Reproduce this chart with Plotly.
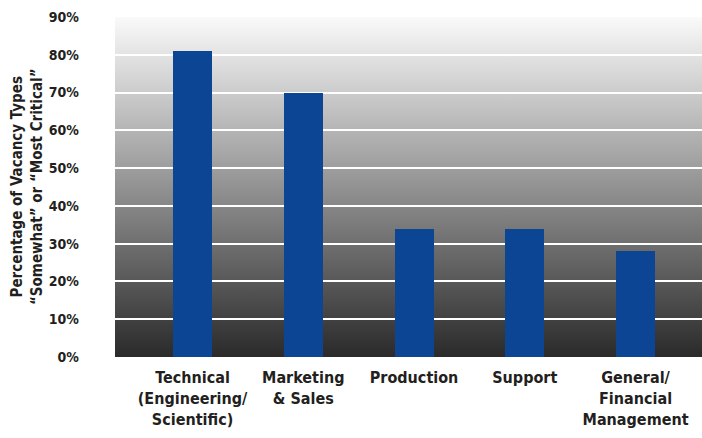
import base64
import plotly.graph_objects as go

# Vacancy categories and share rated "somewhat" or "most critical" (%)
categories = [
    "Technical<br>(Engineering/<br>Scientific)",
    "Marketing<br>& Sales",
    "Production",
    "Support",
    "General/<br>Financial<br>Management",
]
values = [81, 70, 34, 34, 28]
tick_values = [0, 10, 20, 30, 40, 50, 60, 70, 80, 90]
tick_labels = [f"{v}%" for v in tick_values]

FONT = "DejaVu Sans Condensed, sans-serif"
BAR_COLOR = "#0B4594"
TEXT_COLOR = "#231F20"

# Smooth vertical grey gradient used as the plot-area backdrop
gradient_svg = (
    '<svg xmlns="http://www.w3.org/2000/svg" width="100" height="100" '
    'preserveAspectRatio="none" viewBox="0 0 100 100">'
    '<defs><linearGradient id="g" x1="0" y1="0" x2="0" y2="1">'
    '<stop offset="0" stop-color="#FAFAFA"/>'
    '<stop offset="1" stop-color="#2A2A2A"/>'
    "</linearGradient></defs>"
    '<rect width="100" height="100" fill="url(#g)"/></svg>'
)
gradient_uri = "data:image/svg+xml;base64," + base64.b64encode(
    gradient_svg.encode()
).decode()

fig = go.Figure(
    go.Bar(
        x=categories,
        y=values,
        marker=dict(color=BAR_COLOR, line=dict(width=0)),
        width=0.352,
    )
)

fig.update_layout(
    width=702,
    height=438,
    margin=dict(l=115, r=0, t=17, b=81),
    paper_bgcolor="white",
    plot_bgcolor="rgba(0,0,0,0)",
    showlegend=False,
    bargap=0,
    font=dict(family=FONT, color=TEXT_COLOR),
    images=[
        dict(
            source=gradient_uri,
            xref="paper",
            yref="paper",
            x=0,
            y=1,
            sizex=1,
            sizey=1,
            xanchor="left",
            yanchor="top",
            sizing="stretch",
            layer="below",
        )
    ],
    annotations=[
        dict(
            text="Percentage of Vacancy Types<br>\u201cSomewhat\u201d or \u201cMost Critical\u201d",
            xref="paper",
            yref="paper",
            x=0,
            y=0.5,
            xshift=-88,
            xanchor="center",
            yanchor="middle",
            textangle=-90,
            showarrow=False,
            font=dict(family=FONT, size=15, color=TEXT_COLOR, weight="bold"),
        )
    ],
)

fig.update_yaxes(
    range=[0, 90],
    tickvals=tick_values,
    ticktext=tick_labels,
    showgrid=True,
    gridcolor="white",
    gridwidth=2,
    zeroline=False,
    showline=False,
    ticks="",
    ticklabelstandoff=35,
    tickfont=dict(family=FONT, size=14, color=TEXT_COLOR, weight="bold"),
)

fig.update_xaxes(
    range=[-0.70, 4.60],
    showgrid=False,
    zeroline=False,
    showline=False,
    ticks="",
    ticklabelstandoff=9,
    tickangle=0,
    tickfont=dict(family=FONT, size=16, color=TEXT_COLOR, weight="bold"),
)

fig.write_html("out.html")
